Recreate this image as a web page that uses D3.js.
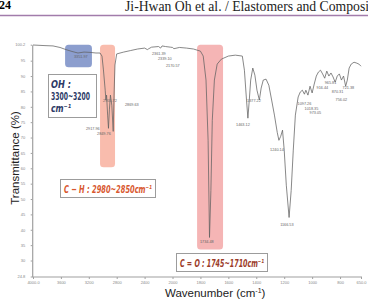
<!DOCTYPE html>
<html>
<head>
<meta charset="utf-8">
<script src="https://cdn.jsdelivr.net/npm/d3@7"></script>
<style>
  body { margin: 0; background: #fff; }
  svg { display: block; }
</style>
</head>
<body>
<svg id="chart" width="368" height="300"></svg>
<script>
// FTIR spectrum: wavenumber (cm-1), transmittance (%)
const wavenumbers = [4000, 3828, 3713, 3613, 3527, 3441, 3355, 3269, 3183, 3097, 3039, 3011,
  2990, 2965, 2955, 2945, 2930, 2918, 2905, 2890, 2870, 2850, 2838, 2825, 2800, 2700, 2600,
  2500, 2400, 2360, 2340, 2300, 2200, 2170, 2150, 2100, 2030, 2000, 1990, 1950, 1900, 1850,
  1800, 1780, 1760, 1745, 1735, 1725, 1715, 1700, 1680, 1650, 1600, 1550, 1500, 1485, 1470,
  1460, 1450, 1440, 1425, 1410, 1395, 1378, 1365, 1350, 1330, 1310, 1290, 1270, 1250, 1238,
  1225, 1212, 1200, 1185, 1165, 1150, 1135, 1120, 1100, 1085, 1070, 1055, 1045, 1030, 1015,
  1000, 985, 970, 955, 940, 925, 910, 895, 880, 865, 850, 835, 820, 805, 790, 775, 760, 748,
  735, 720, 700, 680, 665, 650];
const transmittance = [100.1, 99.9, 99.8, 99.3, 98.6, 98.0, 97.5, 97.8, 97.7, 97.5, 97.5, 96.5,
  92.0, 85.4, 82.2, 83.8, 77.3, 73.0, 79.0, 83.8, 80.5, 72.0, 83.8, 93.6, 97.2, 97.8, 98.3,
  98.8, 99.1, 98.6, 98.9, 99.4, 99.6, 99.1, 99.8, 99.6, 99.4, 99.3, 98.9, 99.3, 99.1, 98.8,
  98.1, 96.5, 88.7, 69.1, 37.5, 52.8, 75.6, 88.7, 93.9, 95.5, 96.5, 96.8, 96.5, 91.9, 82.2,
  76.3, 82.2, 88.7, 92.6, 90.3, 85.4, 82.2, 86.1, 88.7, 89.0, 87.0, 82.2, 77.3, 71.7, 69.1,
  70.4, 72.4, 65.9, 54.5, 44.0, 52.8, 65.9, 77.3, 83.2, 84.8, 85.4, 84.1, 85.4, 83.8, 86.7,
  84.5, 87.4, 90.0, 91.3, 91.9, 90.7, 89.3, 91.6, 90.0, 91.0, 89.7, 88.0, 90.0, 90.7, 88.7,
  90.0, 86.7, 88.7, 92.6, 93.9, 94.5, 94.2, 93.9, 93.2];

// axis ticks
const xTicks = [4000, 3600, 3200, 2800, 2400, 2000, 1800, 1600, 1400, 1200, 1000, 800, 650];
const xTickLabels = ["4000.0", "3600", "3200", "2800", "2400", "2000", "1800", "1600", "1400", "1200", "1000", "800", "650.0"];
const yTicks = [24.8, 30, 35, 40, 45, 50, 55, 60, 65, 70, 75, 80, 85, 90, 95, 100.2];
const yTickLabels = ["24.8", "30", "35", "40", "45", "50", "55", "60", "65", "70", "75", "80", "85", "90", "95", "100.2"];

// peak labels: text, wavenumber where label starts, transmittance level of label
const peakNames = ["3351.97", "2955.72", "2869.63", "2917.96", "2849.76", "2361.39", "2339.10", "2170.57",
  "1734.48", "1463.12", "1377.22", "1240.14", "1166.53", "1097.26", "1018.35", "973.05",
  "965.81", "916.44", "870.31", "756.02", "721.38"];
const peakLabelWn = [3412, 2996, 2681, 3240, 3082, 2294, 2208, 2093, 1803, 1545, 1466, 1301, 1229,
  1104, 1054, 1018, 910, 968, 860, 832, 782];
const peakLabelT = [96.0, 81.7, 80.2, 72.4, 70.8, 96.7, 95.2, 92.8, 35.6, 73.7, 81.5, 65.5, 41.1,
  80.5, 78.9, 77.6, 87.4, 85.9, 84.5, 81.8, 85.8];

// highlighted bands: [wn from, wn to, T bottom]
const bandNames = ["OH", "CH", "CO"];
const bandWn = [[3540, 3155], [3039, 2824], [1824, 1638]];
const bandTBottom = [92.9, 60.3, 33.6];
const bandColors = ["#7f94c9", "#f7a592", "#f19c9c"];

const svg = d3.select("#chart");

// page header
svg.append("text").attr("x", -1).attr("y", 9)
  .attr("font-family", "Liberation Serif").attr("font-weight", "bold").attr("font-size", 12)
  .text("24");
svg.append("text").attr("x", 125).attr("y", 10.5)
  .attr("font-family", "Liberation Serif").attr("font-size", 13.7).attr("fill", "#222")
  .text("Ji-Hwan Oh et al. / Elastomers and Composites");
svg.append("line").attr("x1", 0).attr("x2", 368).attr("y1", 15.5).attr("y2", 15.5)
  .attr("stroke", "#a27cab").attr("stroke-width", 1.6);

// scales (split scale at 2000 cm-1 like the instrument software)
const x = d3.scaleLinear().domain([4000, 2000, 650]).range([33, 172.5, 361]);
const y = d3.scaleLinear().domain([24.8, 100.2]).range([276.5, 44.7]);

// bands behind the spectrum
svg.append("g")
  .selectAll("rect")
  .data(bandNames)
  .join("rect")
  .attr("x", (d, i) => x(bandWn[i][0]))
  .attr("width", (d, i) => x(bandWn[i][1]) - x(bandWn[i][0]))
  .attr("y", y(100.2))
  .attr("height", (d, i) => y(bandTBottom[i]) - y(100.2))
  .attr("rx", 3.5)
  .attr("fill", (d, i) => bandColors[i])
  .attr("opacity", (d, i) => i === 0 ? 0.9 : 0.75);

// axes
const axisColor = "#a0a0a0";
const xAxis = svg.append("g")
  .attr("transform", `translate(0, ${y(24.8) + 0.5})`)
  .call(d3.axisBottom(x).tickValues(xTicks).tickSize(2).tickSizeOuter(0)
    .tickFormat((d, i) => xTickLabels[i]));
const yAxis = svg.append("g")
  .attr("transform", `translate(${x(4000) - 0.8}, 0)`)
  .call(d3.axisLeft(y).tickValues(yTicks).tickSize(1.5).tickSizeOuter(0)
    .tickFormat((d, i) => yTickLabels[i]));
[xAxis, yAxis].forEach(g => {
  g.select(".domain").attr("stroke", axisColor).attr("stroke-width", 1.2);
  g.selectAll(".tick line").attr("stroke", axisColor);
  g.selectAll(".tick text").attr("fill", "#888").attr("font-size", 4)
    .attr("font-family", "Liberation Sans");
});
xAxis.select(".domain").attr("d", `M${x(4000) - 1},0H${x(650) + 1}`);
xAxis.selectAll(".tick text").attr("dy", "0.5em");
yAxis.selectAll(".tick text").attr("dx", "-0.6em");

// spectrum
const line = d3.line()
  .x((d, i) => x(wavenumbers[i]))
  .y((d, i) => y(transmittance[i]));
svg.append("path")
  .datum(wavenumbers)
  .attr("d", line)
  .attr("fill", "none")
  .attr("stroke", "#606060")
  .attr("stroke-width", 0.75)
  .attr("stroke-linejoin", "round");

// peak labels
svg.append("g")
  .selectAll("text")
  .data(peakNames)
  .join("text")
  .attr("x", (d, i) => x(peakLabelWn[i]))
  .attr("y", (d, i) => y(peakLabelT[i]))
  .attr("font-family", "Liberation Sans")
  .attr("font-size", 3.8)
  .attr("fill", "#666")
  .text(d => d);

// annotation boxes
function noteBox(x0, y0, w, h) {
  svg.append("rect").attr("x", x0).attr("y", y0).attr("width", w).attr("height", h)
    .attr("fill", "#fff").attr("stroke", "#9c9c9c").attr("stroke-width", 1);
}

noteBox(48.5, 74.5, 48, 43);
const ohLines = ["OH :", "3300~3200", "cm⁻¹"];
svg.append("g")
  .selectAll("text")
  .data(ohLines)
  .join("text")
  .attr("x", 51)
  .attr("y", (d, i) => 88 + i * 12)
  .attr("font-family", "Liberation Sans Narrow, DejaVu Sans Condensed, sans-serif")
  .attr("font-weight", "bold")
  .attr("font-style", (d, i) => i === 1 ? "normal" : "italic")
  .attr("font-size", 11)
  .attr("fill", "#2c3a66")
  .attr("textLength", (d, i) => [20, 39, 20][i])
  .attr("lengthAdjust", "spacingAndGlyphs")
  .text(d => d);

noteBox(60.5, 179.5, 95, 18);
svg.append("text").attr("x", 64).attr("y", 193)
  .attr("font-family", "Liberation Sans Narrow, DejaVu Sans Condensed, sans-serif")
  .attr("font-style", "italic").attr("font-weight", "bold").attr("font-size", 11)
  .attr("fill", "#d8572e")
  .attr("textLength", 88).attr("lengthAdjust", "spacingAndGlyphs")
  .text("C − H : 2980~2850cm⁻¹");

noteBox(176.5, 253.5, 91, 18);
svg.append("text").attr("x", 180).attr("y", 267)
  .attr("font-family", "Liberation Sans Narrow, DejaVu Sans Condensed, sans-serif")
  .attr("font-style", "italic").attr("font-weight", "bold").attr("font-size", 11)
  .attr("fill", "#9c3c2a")
  .attr("textLength", 84).attr("lengthAdjust", "spacingAndGlyphs")
  .text("C = O : 1745~1710cm⁻¹");

// axis titles
const xTitle = svg.append("text").attr("x", 165).attr("y", 297)
  .attr("font-family", "Liberation Sans").attr("font-size", 11.5).attr("fill", "#222");
xTitle.append("tspan").text("Wavenumber (cm");
xTitle.append("tspan").attr("font-size", 7).attr("dy", -4.5).text("-1");
xTitle.append("tspan").attr("dy", 4.5).text(")");

svg.append("text")
  .attr("transform", "translate(19, 158) rotate(-90)")
  .attr("text-anchor", "middle")
  .attr("font-family", "Liberation Sans").attr("font-size", 11.5).attr("fill", "#222")
  .text("Transmittance (%)");
</script>
</body>
</html>
